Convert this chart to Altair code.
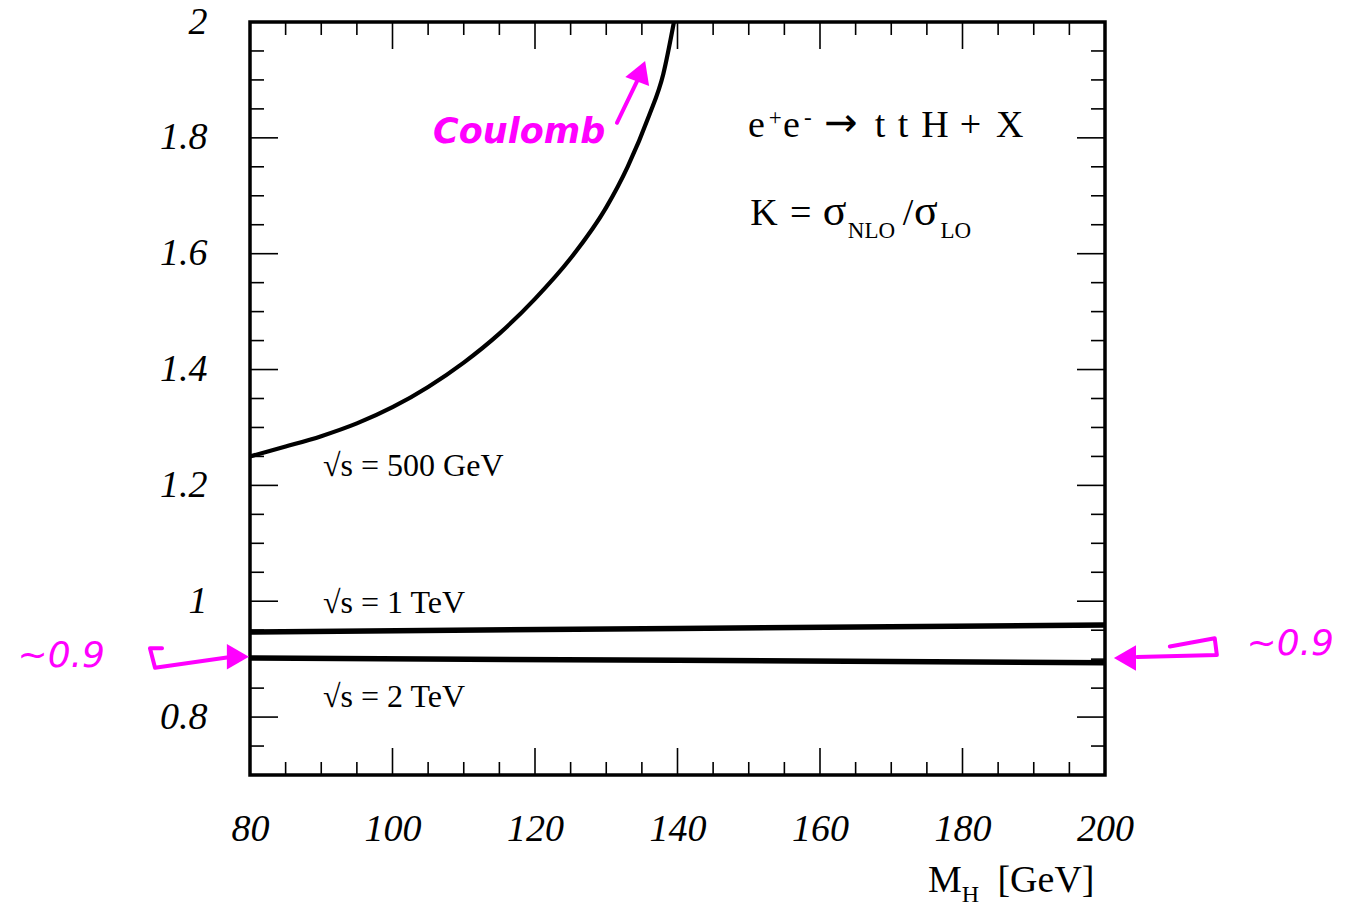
import altair as alt
import pandas as pd

# ---------------- data ----------------
mh_500 = [80, 85, 90, 95, 100, 105, 110, 115, 120, 125, 130, 133, 136, 138, 139.5]
k_500 = [1.25, 1.267, 1.285, 1.307, 1.335, 1.37, 1.412, 1.462, 1.522, 1.592, 1.68, 1.75, 1.838, 1.91, 2.0]
mh_1tev = [80, 140, 200]
k_1tev = [0.947, 0.953, 0.959]
mh_2tev = [80, 140, 200]
k_2tev = [0.902, 0.898, 0.894]

x_major = [80, 100, 120, 140, 160, 180, 200]
x_minor = [85, 90, 95, 105, 110, 115, 125, 130, 135, 145, 150, 155,
           165, 170, 175, 185, 190, 195]
y_major = [0.8, 1.0, 1.2, 1.4, 1.6, 1.8, 2.0]
y_minor = [0.75, 0.85, 0.9, 0.95, 1.05, 1.1, 1.15, 1.25, 1.3, 1.35, 1.45,
           1.5, 1.55, 1.65, 1.7, 1.75, 1.85, 1.9, 1.95]

# curve labels
lab_text = ["√s = 500 GeV", "√s = 1 TeV", "√s = 2 TeV"]
lab_m = [90.25, 90.25, 90.25]
lab_k = [1.216, 0.980, 0.817]

# process text, split in tokens (main size)
proc_text = ["e", "e", "t", "t", "H", "+", "X", "K", "=", "/"]
proc_m = [149.9, 154.8, 167.7, 170.9, 174.2, 179.6, 184.7, 150.2, 155.8, 171.6]
proc_k = [1.801, 1.801, 1.801, 1.801, 1.801, 1.801, 1.801, 1.649, 1.649, 1.649]
arrow_text = ["→"]
arrow_m = [160.6]
arrow_k = [1.803]
sigma_text = ["σ", "σ"]
sigma_m = [160.4, 173.2]
sigma_k = [1.649, 1.649]
# superscripts / subscripts (small size)
small_text = ["+", "-", "NLO", "LO"]
small_m = [152.8, 157.75, 163.9, 176.9]
small_k = [1.822, 1.822, 1.627, 1.627]

# axis title pieces
xt_text = ["M", "[GeV]"]
xt_m = [175.16, 184.9]
xt_k = [0.498, 0.498]
xs_text = ["H"]
xs_m = [179.9]
xs_k = [0.481]

# hand-written magenta annotations
coul_text = ["Coulomb"]
coul_m = [105.7]
coul_k = [1.791]
approx_text = ["~0.9", "~0.9"]
approx_m = [53.5, 226.0]
approx_k = [0.886, 0.907]
arrow_coul_m = [131.5, 134.6]
arrow_coul_k = [1.826, 1.905]
arrow_left_m = [67.65, 65.96, 66.67, 77.5]
arrow_left_k = [0.919, 0.919, 0.885, 0.904]
arrow_right_m = [204.5, 215.7, 215.4, 209.1]
arrow_right_k = [0.9037, 0.907, 0.936, 0.922]
head_m = [134.9, 78.3, 202.8]
head_k = [1.915, 0.904, 0.902]
head_shape = ["triangle-up", "triangle-right", "triangle-left"]
head_angle = [21, 0, 0]

# ---------------- chart ----------------
W, H = 855, 753
SERIF = "Liberation Serif"
MAG = "#ff00ff"

xs = alt.Scale(domain=[80, 200], nice=False, zero=False)
ys = alt.Scale(domain=[0.7, 2.0], nice=False, zero=False)

x_axis = alt.Axis(values=x_major, format="d", ticks=False, domain=False, grid=False,
                  title=None, labelFont=SERIF, labelFontStyle="italic", labelFontSize=38,
                  labelColor="black", labelPadding=35, labelFlush=False, labelOverlap=False)
y_axis = alt.Axis(values=y_major, format="~g", ticks=False, domain=False, grid=False,
                  title=None, labelFont=SERIF, labelFontStyle="italic", labelFontSize=38,
                  labelColor="black", labelPadding=43, labelOverlap=False)


def X():
    return alt.X("M:Q", scale=xs, axis=x_axis)


def Y():
    return alt.Y("K:Q", scale=ys, axis=y_axis)


d500 = pd.DataFrame({"M": mh_500, "K": k_500})
d1 = pd.DataFrame({"M": mh_1tev, "K": k_1tev})
d2 = pd.DataFrame({"M": mh_2tev, "K": k_2tev})

curve500 = alt.Chart(d500).mark_line(color="black", strokeWidth=4.2, clip=True,
                                     interpolate="monotone").encode(x=X(), y=Y())
line1 = alt.Chart(d1).mark_line(color="black", strokeWidth=5.5).encode(x=X(), y=Y())
line2 = alt.Chart(d2).mark_line(color="black", strokeWidth=5.5).encode(x=X(), y=Y())

# inside ticks on all four sides
dxM = pd.DataFrame({"M": x_major})
dxm = pd.DataFrame({"M": x_minor})
dyM = pd.DataFrame({"K": y_major})
dym = pd.DataFrame({"K": y_minor})
tick_layers = []
for df, ln in ((dxM, 27), (dxm, 13)):
    tick_layers.append(alt.Chart(df).mark_rule(color="black", strokeWidth=1.6).encode(
        x=X(), y=alt.value(0), y2=alt.value(ln)))
    tick_layers.append(alt.Chart(df).mark_rule(color="black", strokeWidth=1.6).encode(
        x=X(), y=alt.value(H), y2=alt.value(H - ln)))
for df, ln in ((dyM, 28), (dym, 14)):
    tick_layers.append(alt.Chart(df).mark_rule(color="black", strokeWidth=1.6).encode(
        y=Y(), x=alt.value(0), x2=alt.value(ln)))
    tick_layers.append(alt.Chart(df).mark_rule(color="black", strokeWidth=1.6).encode(
        y=Y(), x=alt.value(W), x2=alt.value(W - ln)))


def text_layer(texts, ms, ks, **kw):
    df = pd.DataFrame({"M": ms, "K": ks, "t": texts})
    props = dict(align="left", baseline="alphabetic", font=SERIF, color="black")
    props.update(kw)
    return alt.Chart(df).mark_text(**props).encode(x=X(), y=Y(), text="t:N")


labels = text_layer(lab_text, lab_m, lab_k, fontSize=32)
proc = text_layer(proc_text, proc_m, proc_k, fontSize=38)
arrow_t = text_layer(arrow_text, arrow_m, arrow_k, fontSize=40, font="DejaVu Sans")
sigma = text_layer(sigma_text, sigma_m, sigma_k, fontSize=44)
small = text_layer(small_text, small_m, small_k, fontSize=23)
xtitle = text_layer(xt_text, xt_m, xt_k, fontSize=38)
xsub = text_layer(xs_text, xs_m, xs_k, fontSize=24)

coul = text_layer(coul_text, coul_m, coul_k, fontSize=35, font="DejaVu Sans",
                  fontStyle="italic", fontWeight="bold", color=MAG)
approx = text_layer(approx_text, approx_m, approx_k, fontSize=36, font="DejaVu Sans",
                    fontStyle="italic", color=MAG, align="center")


def poly(ms, ks):
    df = pd.DataFrame({"M": ms, "K": ks, "o": list(range(len(ms)))})
    return alt.Chart(df).mark_line(color=MAG, strokeWidth=4, strokeJoin="round",
                                   strokeCap="round").encode(x=X(), y=Y(), order="o:Q")


arr1 = poly(arrow_coul_m, arrow_coul_k)
arr2 = poly(arrow_left_m, arrow_left_k)
arr3 = poly(arrow_right_m, arrow_right_k)
heads_df = pd.DataFrame({"M": head_m, "K": head_k, "s": head_shape, "a": head_angle})
heads = alt.Chart(heads_df).mark_point(filled=True, color=MAG, size=650, opacity=1).encode(
    x=X(), y=Y(),
    shape=alt.Shape("s:N", scale=None, legend=None),
    angle=alt.Angle("a:Q", scale=None))

chart = alt.layer(
    curve500, line1, line2, *tick_layers,
    labels, proc, arrow_t, sigma, small, xtitle, xsub,
    coul, approx, arr1, arr2, arr3, heads,
).properties(
    width=W, height=H,
    autosize=alt.AutoSizeParams(type="none"),
    padding={"left": 250, "top": 22, "right": 243, "bottom": 132},
    background="white",
).configure_view(stroke="black", strokeWidth=3.5)

chart.save("out.html", embed_options={"renderer": "svg", "actions": False})
